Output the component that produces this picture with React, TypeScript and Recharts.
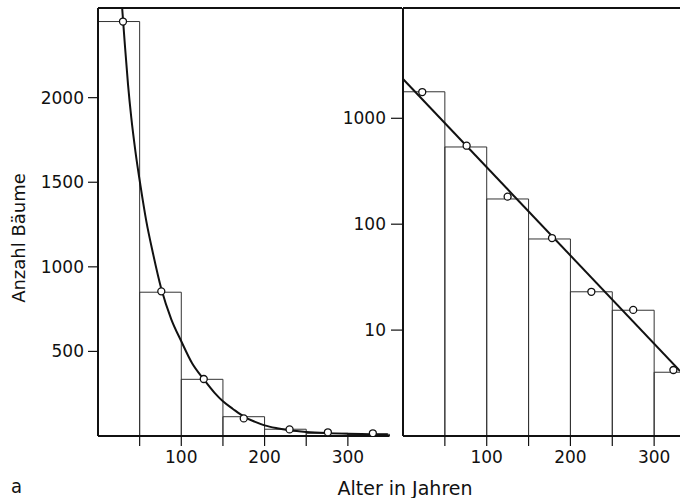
import {
  ComposedChart,
  Line,
  ReferenceArea,
  ReferenceLine,
  Scatter,
  XAxis,
  YAxis,
} from "recharts";

// age classes (years), 50-year bins
const binStarts = [0, 50, 100, 150, 200, 250, 300];
const binWidth = 50;
const ageTicks = [50, 100, 150, 200, 250, 300];

// left panel: linear scale
const linearCounts = [2450, 850, 335, 114, 40, 16, 10];
const linearPointAges = [30, 76, 127, 175, 230, 276, 330];
const linearPointCounts = [2450, 855, 337, 104, 39, 22, 16];
const curveAges = [29, 32, 36, 40, 45, 51, 58, 66, 76, 88, 100, 113, 127, 140, 150, 162, 175, 188, 200, 215, 230, 250, 275, 300, 325, 348];
const curveCounts = [2530, 2330, 2080, 1880, 1680, 1480, 1270, 1080, 870, 690, 560, 430, 335, 255, 205, 160, 115, 85, 63, 46, 34, 24, 17, 13, 11, 10];
const linearTicks = [500, 1000, 1500, 2000];

// right panel: log scale
const logCounts = [1780, 536, 173, 72.5, 23, 15.4, 4.0];
const logPointAges = [23, 76, 125, 178, 225, 275, 323];
const logPointCounts = [1770, 551, 182, 74, 23, 15.5, 4.2];
const fitAges = [0, 331];
const fitCounts = [2350, 4.1];
const logTicks = [10, 100, 1000];

const ink = "#111";
const font = "DejaVu Sans";
const tickStyle = { fill: ink, fontSize: 17, fontFamily: font };

const linearPoints = linearPointAges.map((age, i) => ({ age, count: linearPointCounts[i] }));
const curve = curveAges.map((age, i) => ({ age, count: curveCounts[i] }));
const logPoints = logPointAges.map((age, i) => ({ age, count: logPointCounts[i] }));
const fit = fitAges.map((age, i) => ({ age, count: fitCounts[i] }));

const hundreds = (v: number) => (v % 100 === 0 ? String(v) : "");

const dot = (p: any) => (
  <circle cx={p.cx} cy={p.cy} r={3.5} fill="#fff" stroke={ink} strokeWidth={1.3} />
);

export default function App() {
  return (
    <div
      style={{
        position: "absolute",
        left: 0,
        top: 0,
        width: 680,
        height: 498,
        overflow: "hidden",
        background: "#fff",
        fontFamily: font,
        color: ink,
      }}
    >
      <div style={{ position: "absolute", left: 0, top: 0 }}>
        <ComposedChart width={410} height={498} margin={{ top: 8, right: 8, left: 0, bottom: 0 }}>
          <XAxis
            type="number"
            dataKey="age"
            domain={[0, 365]}
            ticks={ageTicks}
            interval={0}
            tickFormatter={hundreds}
            axisLine={false}
            tickLine={{ stroke: ink, strokeWidth: 1.2 }}
            tickSize={10}
            tickMargin={5}
            tick={tickStyle}
            height={62}
            allowDataOverflow
          />
          <YAxis
            type="number"
            dataKey="count"
            domain={[0, 2530]}
            ticks={linearTicks}
            interval={0}
            width={98}
            axisLine={{ stroke: ink, strokeWidth: 2 }}
            tickLine={{ stroke: ink, strokeWidth: 1.2 }}
            tickSize={10}
            tickMargin={4}
            tick={tickStyle}
            allowDataOverflow
          />
          {binStarts.map((s, i) => (
            <ReferenceArea
              key={s}
              x1={s}
              x2={s + binWidth}
              y1={0}
              y2={linearCounts[i]}
              fill="none"
              stroke="#333"
              strokeWidth={1}
              ifOverflow="hidden"
            />
          ))}
          <ReferenceLine y={2530} stroke={ink} strokeWidth={2} ifOverflow="visible" />
          <ReferenceLine
            segment={[
              { x: 0, y: 0 },
              { x: 350, y: 0 },
            ]}
            stroke={ink}
            strokeWidth={2}
            ifOverflow="visible"
          />
          <Line
            data={curve}
            dataKey="count"
            type="monotone"
            stroke={ink}
            strokeWidth={2}
            dot={false}
            isAnimationActive={false}
          />
          <Scatter data={linearPoints} shape={dot} isAnimationActive={false} />
        </ComposedChart>
      </div>

      <div style={{ position: "absolute", left: 293, top: 0 }}>
        <ComposedChart width={410} height={498} margin={{ top: 8, right: 7, left: 0, bottom: 0 }}>
          <XAxis
            type="number"
            dataKey="age"
            domain={[0, 350]}
            ticks={ageTicks}
            interval={0}
            tickFormatter={hundreds}
            axisLine={{ stroke: ink, strokeWidth: 2 }}
            tickLine={{ stroke: ink, strokeWidth: 1.2 }}
            tickSize={10}
            tickMargin={5}
            tick={tickStyle}
            height={62}
            allowDataOverflow
          />
          <YAxis
            type="number"
            dataKey="count"
            scale="log"
            domain={[1, 11000]}
            ticks={logTicks}
            interval={0}
            width={110}
            axisLine={{ stroke: ink, strokeWidth: 2 }}
            tickLine={{ stroke: ink, strokeWidth: 1.2 }}
            tickSize={12}
            tickMargin={5}
            tick={tickStyle}
            allowDataOverflow
          />
          {binStarts.map((s, i) => (
            <ReferenceArea
              key={s}
              x1={s}
              x2={s + binWidth}
              y1={1}
              y2={logCounts[i]}
              fill="none"
              stroke="#333"
              strokeWidth={1}
              ifOverflow="hidden"
            />
          ))}
          <ReferenceLine y={11000} stroke={ink} strokeWidth={2} ifOverflow="visible" />
          <Line
            data={fit}
            dataKey="count"
            type="linear"
            stroke={ink}
            strokeWidth={2}
            dot={false}
            isAnimationActive={false}
          />
          <Scatter data={logPoints} shape={dot} isAnimationActive={false} />
        </ComposedChart>
      </div>

      <div
        style={{
          position: "absolute",
          left: 18.5,
          top: 238,
          fontSize: 18,
          lineHeight: "18px",
          whiteSpace: "nowrap",
          transform: "translate(-50%, -50%) rotate(-90deg)",
        }}
      >
        Anzahl Bäume
      </div>
      <div
        style={{
          position: "absolute",
          left: 405,
          top: 479,
          fontSize: 19,
          lineHeight: "19px",
          whiteSpace: "nowrap",
          transform: "translateX(-50%)",
        }}
      >
        Alter in Jahren
      </div>
      <div
        style={{
          position: "absolute",
          left: 11,
          top: 476,
          fontSize: 20,
          lineHeight: "20px",
          fontFamily: "DejaVu Sans Condensed, DejaVu Sans",
        }}
      >
        a
      </div>
    </div>
  );
}
